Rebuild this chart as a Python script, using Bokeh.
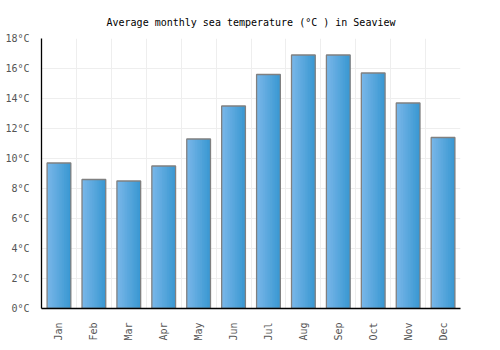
from bokeh.plotting import figure
from bokeh.embed import file_html
from bokeh.resources import INLINE
from bokeh.models import ColumnDataSource, FixedTicker, Range1d, CustomJSTickFormatter
from bokeh.transform import dodge
import math

months = ["Jan", "Feb", "Mar", "Apr", "May", "Jun", "Jul", "Aug", "Sep", "Oct", "Nov", "Dec"]
temps = [9.7, 8.6, 8.5, 9.5, 11.3, 13.5, 15.6, 16.9, 16.9, 15.7, 13.7, 11.4]
y_ticks = [0, 2, 4, 6, 8, 10, 12, 14, 16, 18]

xs = [i + 0.5 for i in range(len(months))]
src = ColumnDataSource(dict(x=xs, top=temps, month=months))

p = figure(width=500, height=350, output_backend="svg", toolbar_location=None,
           x_range=Range1d(0, len(months)), y_range=Range1d(0, 18),
           title="Average monthly sea temperature (°C ) in Seaview",
           min_border_left=41, min_border_right=40, min_border_bottom=42, min_border_top=38)

# gradient-like fill with narrow overlapping slices
bar_w = 0.68
n = 14
c0 = (0x78, 0xB6, 0xE8)
c1 = (0x3A, 0x98, 0xD2)
sw = bar_w / n
for k in range(n):
    t = k / (n - 1)
    col = "#%02x%02x%02x" % tuple(int(round(a + (b - a) * t)) for a, b in zip(c0, c1))
    off = -bar_w / 2 + sw * (k + 0.5)
    w = sw * 2 if k < n - 1 else sw
    off2 = off + (sw / 2 if k < n - 1 else 0)
    p.vbar(x=dodge("x", off2), top="top", bottom=0, width=w, source=src,
           fill_color=col, line_color=None)
p.vbar(x="x", top="top", bottom=0, width=bar_w, source=src,
       fill_color=None, line_color="#808080", line_width=1.3)

p.title.align = "center"
p.title.text_font = "DejaVu Sans Mono"
p.title.text_font_size = "10px"
p.title.text_font_style = "normal"
p.title.text_color = "#000000"
p.title.offset = 0
p.title.standoff = 21

p.xaxis.ticker = FixedTicker(ticks=xs)
p.xaxis.major_label_overrides = {x: m for x, m in zip(xs, months)}
p.xaxis.major_label_orientation = math.pi / 2
p.yaxis.ticker = FixedTicker(ticks=y_ticks)
p.yaxis.formatter = CustomJSTickFormatter(code="return tick + '°C';")

for ax in (p.xaxis, p.yaxis):
    ax.major_label_text_font = "DejaVu Sans Mono"
    ax.major_label_text_font_size = "10px"
    ax.major_label_text_color = "#555555"
    ax.axis_line_color = "#000000"
    ax.axis_line_width = 1.3
    ax.major_tick_line_color = None
    ax.minor_tick_line_color = None
p.xaxis.major_label_standoff = 8
p.yaxis.major_label_standoff = 6

p.xgrid.ticker = FixedTicker(ticks=list(range(len(months) + 1)))
p.xgrid.grid_line_color = "#eeeeee"
p.ygrid.grid_line_color = "#eeeeee"
p.outline_line_color = None
p.background_fill_color = "#ffffff"
p.border_fill_color = "#ffffff"

open("out.html", "w").write(file_html(p, INLINE))
